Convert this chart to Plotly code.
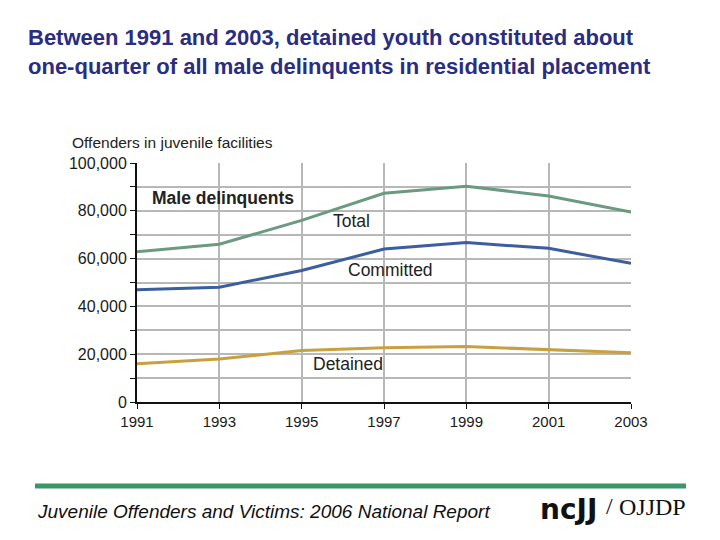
import plotly.graph_objects as go

years = [1991, 1993, 1995, 1997, 1999, 2001, 2003]
total = [62900, 66000, 76000, 87300, 90300, 86200, 79500]
committed = [47000, 48000, 55000, 64000, 66700, 64300, 58000]
detained = [16000, 18000, 21500, 22700, 23200, 22000, 20600]

y_ticks = [0, 20000, 40000, 60000, 80000, 100000]
y_labels = ["0", "20,000", "40,000", "60,000", "80,000", "100,000"]

series = [
    ("Total", total, "#6b9a80"),
    ("Committed", committed, "#3c5e9f"),
    ("Detained", detained, "#c9a040"),
]

# the page puts the figure 8px in from the corner; these are screen pixels
OFF = 8
L, R, T, B = 137, 631, 163, 402


def px(x, y):
    return (x - L) / (R - L), (B - y) / (B - T)


fig = go.Figure()
for name, vals, color in series:
    fig.add_trace(go.Scatter(x=years, y=vals, mode="lines", name=name,
                             line=dict(color=color, width=3)))

fig.update_layout(
    width=720, height=540,
    margin=dict(l=L - OFF, r=720 + OFF - R, t=T - OFF, b=540 + OFF - B),
    paper_bgcolor="white", plot_bgcolor="white",
    showlegend=False,
    font=dict(family="Liberation Sans, Arial, sans-serif", color="#222"),
)

# two-line heading
xp, yp = px(26, 52)
fig.add_annotation(
    text="<b>Between 1991 and 2003, detained youth constituted about<br>"
         "one-quarter of all male delinquents in residential placement</b>",
    x=xp, y=yp, xref="paper", yref="paper", xanchor="left", yanchor="middle",
    align="left", showarrow=False, font=dict(size=22, color="#2a2d80"),
)

fig.update_xaxes(
    range=[1991, 2003], tickvals=years, ticktext=[str(y) for y in years],
    showgrid=True, gridcolor="#b8b8b8", gridwidth=1.5,
    showline=True, linecolor="#111", linewidth=2,
    ticks="outside", ticklen=5, tickcolor="#111",
    tickfont=dict(size=15, color="#1a1a1a"), zeroline=False,
)
fig.update_yaxes(
    range=[0, 100000], tickvals=y_ticks, ticktext=y_labels,
    showgrid=True, gridcolor="#b8b8b8", gridwidth=1.5,
    showline=True, linecolor="#111", linewidth=2,
    ticks="outside", ticklen=5, tickcolor="#111",
    minor=dict(dtick=10000, showgrid=True, gridcolor="#b8b8b8", gridwidth=1.5,
               ticks="outside", ticklen=5, tickcolor="#111"),
    tickfont=dict(size=16, color="#1a1a1a"), zeroline=False,
)

labels = [
    ("Offenders in juvenile facilities", 70, 142, 15.5, False, "left"),
    ("Male delinquents", 150, 198, 17.5, True, "left"),
    ("Total", 351, 221, 17.5, False, "center"),
    ("Committed", 390, 270, 17.5, False, "center"),
    ("Detained", 348, 364, 17.5, False, "center"),
]
for text, x, y, size, bold, anchor in labels:
    xp, yp = px(x, y)
    fig.add_annotation(
        text=f"<b>{text}</b>" if bold else text,
        x=xp, y=yp, xref="paper", yref="paper",
        xanchor=anchor, yanchor="middle", showarrow=False,
        font=dict(size=size, color="#222"),
    )

# footer band
x0, y0 = px(35, 486)
x1, _ = px(686, 486)
fig.add_shape(type="line", xref="paper", yref="paper", x0=x0, x1=x1, y0=y0, y1=y0,
              line=dict(color="#3a956a", width=5))

xp, yp = px(35, 511)
fig.add_annotation(text="<i>Juvenile Offenders and Victims: 2006 National Report</i>",
                   x=xp, y=yp, xref="paper", yref="paper", xanchor="left", yanchor="middle",
                   showarrow=False, font=dict(size=19, color="#111"))

xp, yp = px(538, 509)
fig.add_annotation(text="<b>ncJJ</b>", x=xp, y=yp, xref="paper", yref="paper",
                   xanchor="left", yanchor="middle", showarrow=False,
                   font=dict(size=28, color="#111", family="DejaVu Sans"))
xp, yp = px(604, 506)
fig.add_annotation(text="/", x=xp, y=yp, xref="paper", yref="paper",
                   xanchor="left", yanchor="middle", showarrow=False,
                   font=dict(size=24, color="#111", family="Liberation Serif"))
xp, yp = px(617, 507)
fig.add_annotation(text="OJJDP", x=xp, y=yp, xref="paper", yref="paper",
                   xanchor="left", yanchor="middle", showarrow=False,
                   font=dict(size=24, color="#111", family="Liberation Serif"))

fig.write_html("out.html")
